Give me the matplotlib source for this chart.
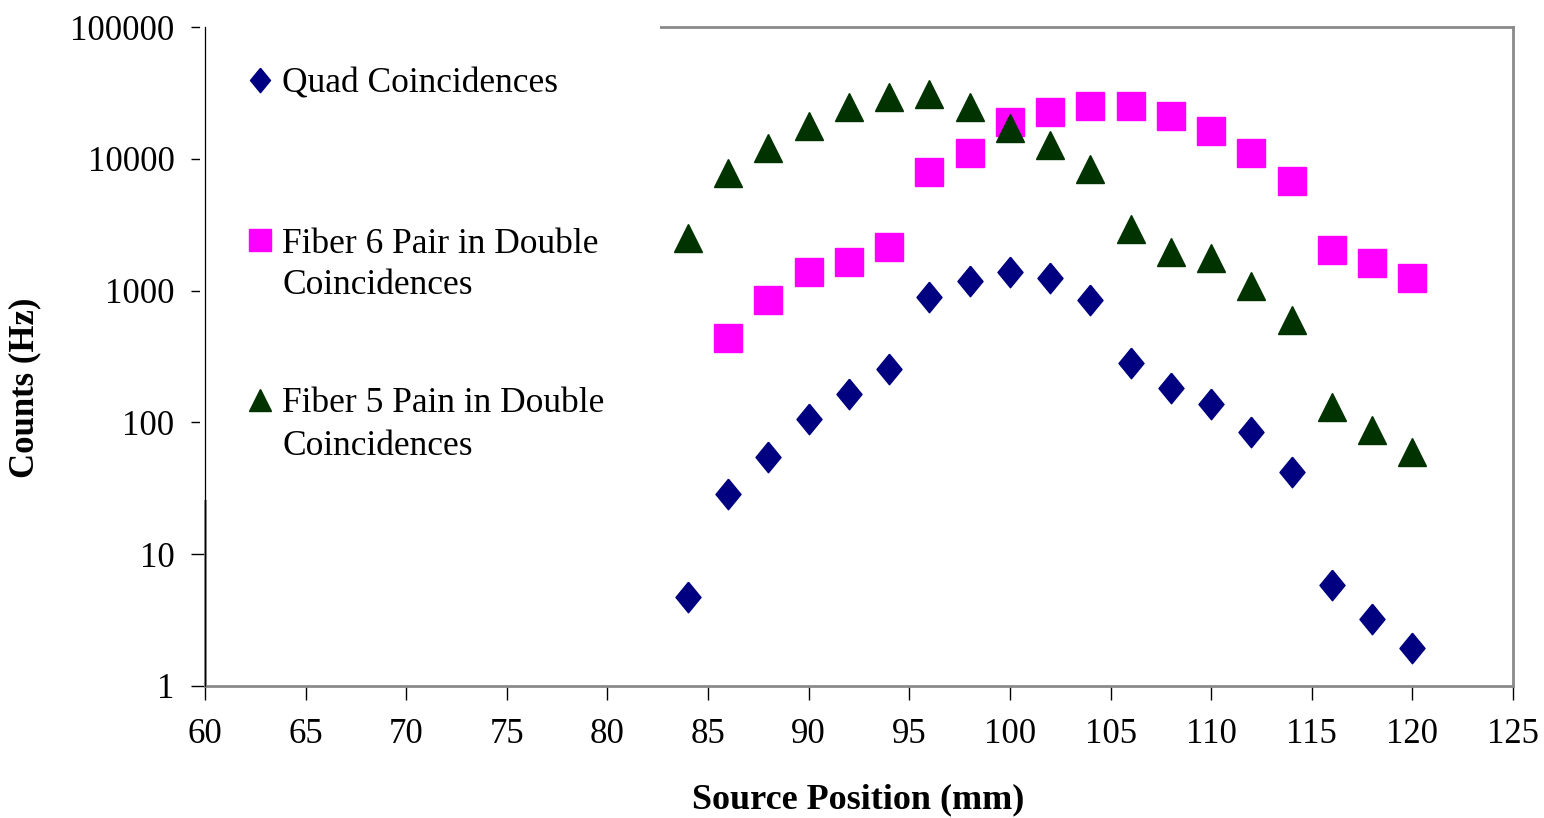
import matplotlib; matplotlib.use("Agg"); import matplotlib.pyplot as plt
from matplotlib.patches import Rectangle
from matplotlib.ticker import FixedLocator, FuncFormatter, NullLocator

plt.rcParams['font.family'] = ['Liberation Serif', 'DejaVu Serif']

# source position (mm)
pos = [84, 86, 88, 90, 92, 94, 96, 98, 100, 102, 104, 106, 108, 110, 112, 114, 116, 118, 120]
quad = [4.7, 28.6, 55, 106, 164, 254, 894, 1180, 1380, 1250, 850, 282, 182, 138, 85, 42, 5.8, 3.2, 1.95]
pos6 = pos[1:]
fib6 = [437, 850, 1380, 1650, 2140, 7940, 11070, 19000, 22650, 25200, 25200, 21100, 16250, 11070, 6780, 2030, 1620, 1250]
fib5 = [2510, 7800, 12100, 17700, 24700, 29500, 31000, 24700, 17100, 12700, 8400, 2940, 1960, 1770, 1080, 600, 131, 88, 60]
labels = ["Quad Coincidences", "Fiber 6 Pair in Double", "Fiber 5 Pain in Double"]
xticks = [60, 65, 70, 75, 80, 85, 90, 95, 100, 105, 110, 115, 120, 125]
yticks = [1, 10, 100, 1000, 10000, 100000]

fig = plt.figure(figsize=(15.44, 8.18), dpi=100)
ax = fig.add_axes([205/1544, 132/818, 1308/1544, 659/818])
diamond = [(0, 1), (0.82, 0), (0, -1), (-0.82, 0), (0, 1)]
ax.plot(pos, quad, ls='none', marker=diamond, ms=22, color='#000080', mec='#000080', label=labels[0], zorder=3)
ax.plot(pos6, fib6, ls='none', marker='s', ms=19.5, color='#FF00FF', mec='#FF00FF', label=labels[1], zorder=3)
ax.plot(pos, fib5, ls='none', marker='^', ms=20.5, color='#003300', mec='#003300', label=labels[2], zorder=4)

ax.set_yscale('log')
ax.set_xlim(60, 125); ax.set_ylim(1, 100000)
ax.xaxis.set_major_locator(FixedLocator(xticks))
ax.yaxis.set_major_locator(FixedLocator(yticks))
ax.yaxis.set_minor_locator(NullLocator())
ax.yaxis.set_major_formatter(FuncFormatter(lambda v, p: f"{int(round(v))}"))
ax.tick_params(axis='both', direction='out', length=10, width=1, colors='black', labelsize=25)
ax.tick_params(axis='x', pad=13)
ax.tick_params(axis='y', pad=12)
for s in ax.spines.values():
    s.set_color('#8a8a8a'); s.set_linewidth(2)

# white legend field over the plot-area frame, then the black value axis line
ax.add_patch(Rectangle((-0.004, 0.282), 0.352, 0.73, transform=ax.transAxes, fc='white', ec='none', zorder=4.5, clip_on=False))
ax.plot([0, 0], [0, 1], transform=ax.transAxes, color='black', lw=0.9, zorder=6, clip_on=False)

ax.legend(loc='upper left', bbox_to_anchor=(0.0294, 0.938), frameon=False, fontsize=25.5,
          borderpad=0, borderaxespad=0, handlelength=0.94, handletextpad=0.147,
          labelspacing=3.58, markerscale=0.8).set_zorder(7)
ax.text(0.0589, 0.607, "Coincidences", transform=ax.transAxes, va='center', ha='left', fontsize=25.5, zorder=7)
ax.text(0.0589, 0.364, "Coincidences", transform=ax.transAxes, va='center', ha='left', fontsize=25.5, zorder=7)

fig.text(858/1544, 1 - 800/818, "Source Position (mm)", ha='center', va='center', fontsize=26, weight='bold')
fig.text(25/1544, 1 - 388/818, "Counts (Hz)", ha='center', va='center', rotation=90, fontsize=25, weight='bold')

fig.savefig("out.png", dpi=100, facecolor='white')
